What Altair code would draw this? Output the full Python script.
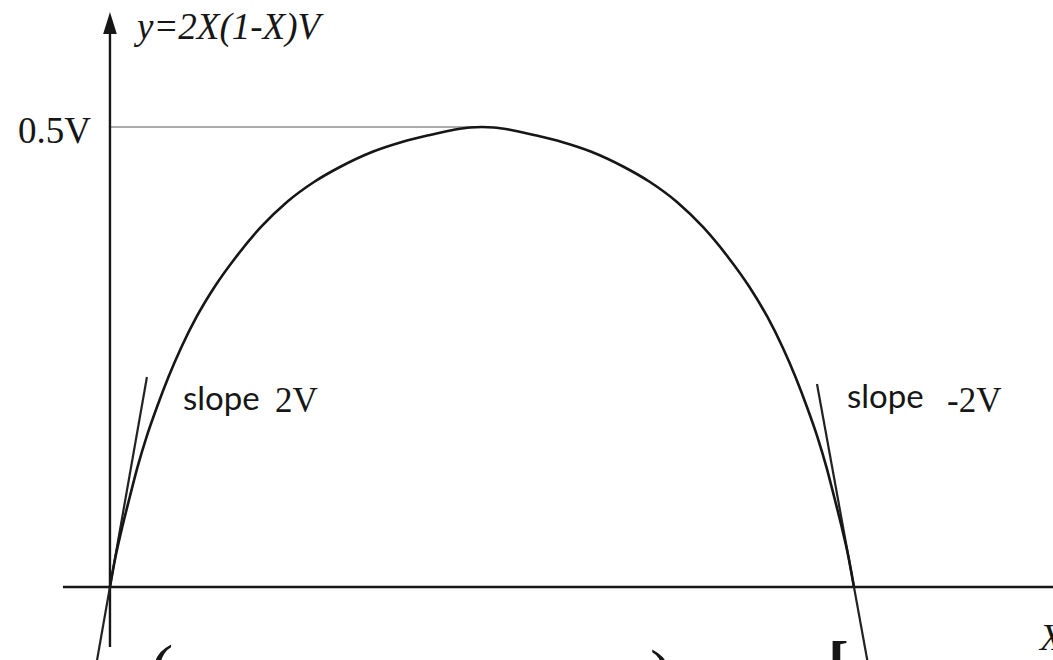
import altair as alt
import pandas as pd

# Sketch of y = 2X(1-X)V; X in units of the full range, y in units of V
curve_X = [0.0, 0.0074, 0.0165, 0.0266, 0.0370, 0.0491, 0.0632, 0.0786, 0.0961,
           0.1163, 0.1405, 0.1694, 0.2030, 0.2379, 0.2742, 0.3091, 0.3522, 0.3925,
           0.4301, 0.4610, 0.4839, 0.5000,
           0.5161, 0.5390, 0.5699, 0.6075, 0.6478, 0.6909, 0.7258, 0.7621, 0.7970,
           0.8306, 0.8595, 0.8837, 0.9039, 0.9214, 0.9368, 0.9509, 0.9630, 0.9734,
           0.9835, 0.9926, 1.0]
curve_y = [0.0, 0.0326, 0.0652, 0.0978, 0.1304, 0.1630, 0.1957, 0.2283, 0.2609,
           0.2935, 0.3261, 0.3587, 0.3913, 0.4185, 0.4402, 0.4565, 0.4728, 0.4837,
           0.4913, 0.4967, 0.4995, 0.5000,
           0.4995, 0.4967, 0.4913, 0.4837, 0.4728, 0.4565, 0.4402, 0.4185, 0.3913,
           0.3587, 0.3261, 0.2935, 0.2609, 0.2283, 0.1957, 0.1630, 0.1304, 0.0978,
           0.0652, 0.0326, 0.0]

# Tangent segments through the two roots
tangent_side = ["left", "left", "right", "right"]
tangent_X = [0.0497, -0.0202, 0.9503, 1.0208]
tangent_y = [0.2283, -0.0924, 0.2207, -0.0924]

peak_X = 0.5
peak_y = 0.5

# Axis extents
y_axis_X = [0.0]
y_axis_bottom = [-0.0652]
y_axis_top = [0.613]
x_axis_y = [0.0]
x_axis_left = [-0.0632]
x_axis_right = [1.27]

# Annotations (anchor = left end of the baseline)
title_text = ["y=2X(1-X)V"]
title_X = [0.0363]
title_y = [0.5957]

level_text = ["0.5V"]
level_X = [-0.1237]
level_y = [0.4826]

slope_word = ["slope", "slope"]
slope_word_X = [0.0981, 0.9906]
slope_word_y = [0.1924, 0.1946]

slope_value = ["2V", "-2V"]
slope_value_X = [0.2218, 1.125]
slope_value_y = [0.1902, 0.1902]

xlabel_text = ["X"]
xlabel_X = [1.25]
xlabel_y = [-0.0685]

below_text = ["(", ")"]
below_X = [0.0538, 0.7258]
below_y = [-0.1152, -0.1207]
bracket_text = ["["]
bracket_X = [0.965]
bracket_y = [-0.1054]

W, H = 1053, 660
xs = alt.Scale(domain=[-0.1478, 1.2675], nice=False, zero=False)
ys = alt.Scale(domain=[-0.0793, 0.638], nice=False, zero=False)

INK = "#161616"
SERIF = "Liberation Serif"


def xq(field):
    return alt.X(f"{field}:Q", scale=xs, axis=None)


def yq(field):
    return alt.Y(f"{field}:Q", scale=ys, axis=None)


curve_df = pd.DataFrame({"X": curve_X, "y": curve_y})
curve = alt.Chart(curve_df).mark_line(
    color=INK, strokeWidth=2.6, interpolate="monotone"
).encode(x=xq("X"), y=yq("y"))

tan_df = pd.DataFrame({"side": tangent_side, "X": tangent_X, "y": tangent_y})
tangents = alt.Chart(tan_df).mark_line(
    color="#222222", strokeWidth=2.2, clip=True
).encode(x=xq("X"), y=yq("y"), detail="side:N")

yaxis_df = pd.DataFrame({"X": y_axis_X, "y0": y_axis_bottom, "y1": y_axis_top})
y_axis = alt.Chart(yaxis_df).mark_rule(color=INK, strokeWidth=2.4).encode(
    x=xq("X"), y=yq("y0"), y2="y1:Q"
)

arrow = alt.Chart(pd.DataFrame({"X": y_axis_X, "y": y_axis_top})).mark_point(
    shape="M0,-1L0.62,1L-0.62,1Z", filled=True, color=INK, size=484, opacity=1
).encode(x=xq("X"), y=yq("y"))

xaxis_df = pd.DataFrame({"x0": x_axis_left, "x1": x_axis_right, "y": x_axis_y})
x_axis = alt.Chart(xaxis_df).mark_rule(color=INK, strokeWidth=2.6, clip=True).encode(
    x=xq("x0"), x2="x1:Q", y=yq("y")
)

level_df = pd.DataFrame({"x0": [0.0], "x1": [peak_X], "y": [peak_y]})
level_line = alt.Chart(level_df).mark_rule(color="#5a5a5a", strokeWidth=1.1).encode(
    x=xq("x0"), x2="x1:Q", y=yq("y")
)


def text_layer(texts, xv, yv, size, font, style="normal", weight="normal", clip=False):
    df = pd.DataFrame({"t": texts, "X": xv, "y": yv})
    return alt.Chart(df).mark_text(
        align="left", baseline="alphabetic", fontSize=size, font=font,
        fontStyle=style, fontWeight=weight, color=INK, clip=clip
    ).encode(x=xq("X"), y=yq("y"), text="t:N")


title = text_layer(title_text, title_X, title_y, 37, SERIF, style="italic")
level = text_layer(level_text, level_X, level_y, 37, SERIF)
slope_w = text_layer(slope_word, slope_word_X, slope_word_y, 33, "Lato")
slope_v = text_layer(slope_value, slope_value_X, slope_value_y, 35, SERIF)
xlabel = text_layer(xlabel_text, xlabel_X, xlabel_y, 37, SERIF, style="italic", clip=True)
below = text_layer(below_text, below_X, below_y, 70, SERIF, clip=True)
bracket = text_layer(bracket_text, bracket_X, bracket_y, 62, SERIF, weight="bold", clip=True)

chart = alt.layer(
    level_line, x_axis, y_axis, arrow, tangents, curve,
    title, level, slope_w, slope_v, xlabel, below, bracket
).properties(
    width=W, height=H, padding=0, background="white",
    autosize=alt.AutoSizeParams(type="none")
).configure_view(stroke=None)

chart.save("out.html", embed_options={"renderer": "svg", "actions": False})
